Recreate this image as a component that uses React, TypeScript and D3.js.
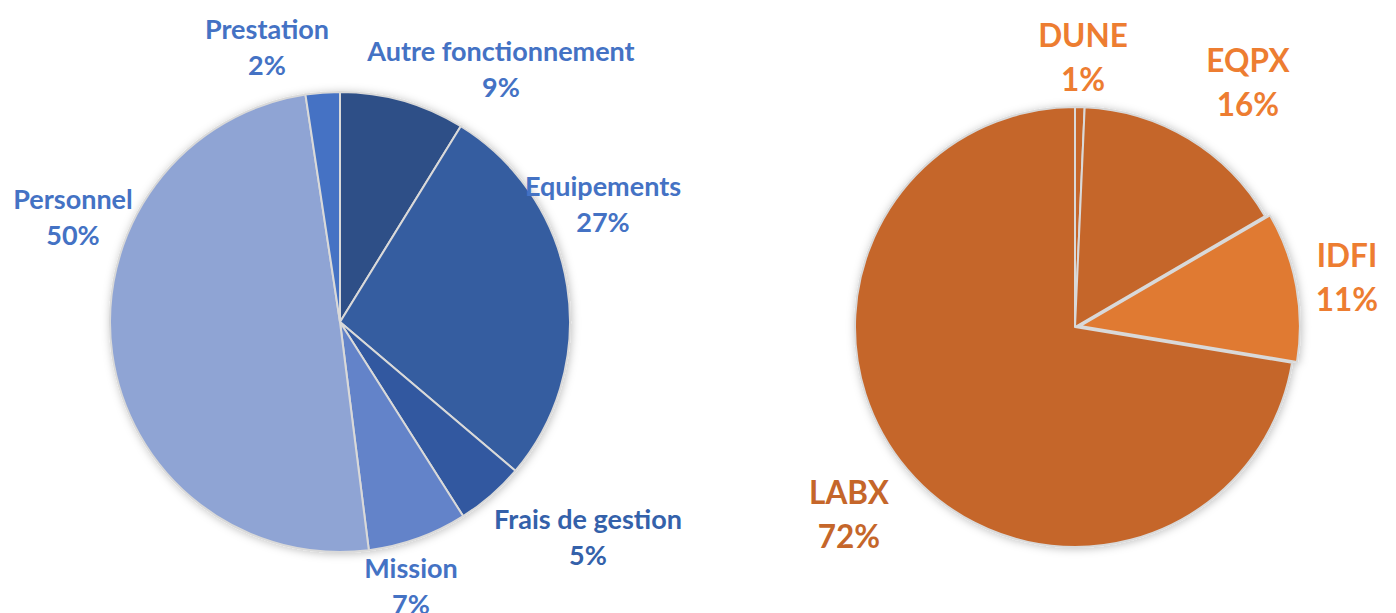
import React, { useEffect, useRef } from "react";
import * as d3 from "d3";

// left pie: budget by type of expense
const leftLabels = ["Autre fonctionnement", "Equipements", "Frais de gestion", "Mission", "Personnel", "Prestation"];
const leftValues = [8.8, 27.4, 4.8, 7.0, 49.6, 2.4];
const leftColors = ["#2E4F87", "#365DA0", "#3059A0", "#6383C9", "#8FA4D4", "#4472C4"];
const leftTextColors = ["#4472C4", "#4472C4", "#3461AA", "#4472C4", "#4472C4", "#4472C4"];

// right pie: budget by funding source
const rightLabels = ["DUNE", "EQPX", "IDFI", "LABX"];
const rightValues = [0.7, 15.9, 11.0, 72.4];
const rightColors = ["#C5662A", "#C5662A", "#E07A32", "#C5662A"];
const rightTextColors = ["#ED7D31", "#ED7D31", "#ED7D31", "#C5662A"];
const rightExplode = [0, 0, 5, 0];

// label centres relative to the pie centre (Excel "best fit")
const leftLabelPos = [[161, -252], [263, -117], [248, 216], [71, 265], [-267, -104], [-73, -274]];
const rightLabelPos = [[8, -269], [173, -244], [272, -49], [-226, 188]];

const App = () => {
  const svgRef = useRef<SVGSVGElement>(null);

  useEffect(() => {
    const width = 1396;
    const height = 613;
    const svg = d3.select(svgRef.current)
      .attr("width", width)
      .attr("height", height)
      .style("position", "absolute")
      .style("left", 0)
      .style("top", 0)
      .style("font-family", "Lato, 'Open Sans', sans-serif")
      .style("font-weight", "bold");
    svg.selectAll("*").remove();

    const defs = svg.append("defs");
    defs.append("filter")
      .attr("id", "shadow")
      .attr("x", "-20%").attr("y", "-20%").attr("width", "140%").attr("height", "140%")
      .append("feDropShadow")
      .attr("dx", 1).attr("dy", 1)
      .attr("stdDeviation", 4)
      .attr("flood-color", "#000")
      .attr("flood-opacity", 0.25);

    const pie = d3.pie<number>().sort(null).value((d) => d);

    const drawPie = (opts: {
      cx: number; cy: number; r: number; values: number[]; labels: string[];
      colors: string[]; textColors: string[]; labelPos: number[][];
      explode: number[]; fontSize: number; lineGap: number;
    }) => {
      const g = svg.append("g").attr("transform", `translate(${opts.cx},${opts.cy})`);
      const arc = d3.arc<d3.PieArcDatum<number>>().innerRadius(0).outerRadius(opts.r);
      const arcs = pie(opts.values);

      g.append("g")
        .attr("filter", "url(#shadow)")
        .selectAll("path")
        .data(arcs)
        .join("path")
        .attr("transform", (d, i) => {
          const a = (d.startAngle + d.endAngle) / 2;
          const e = opts.explode[i];
          return `translate(${Math.sin(a) * e},${-Math.cos(a) * e})`;
        })
        .attr("d", arc)
        .attr("fill", (d, i) => opts.colors[i])
        .attr("stroke", "#D9D9D9")
        .attr("stroke-width", 2)
        .attr("stroke-linejoin", "round");

      const fmt = d3.format(".0f");
      const lab = g.append("g")
        .selectAll("text")
        .data(arcs)
        .join("text")
        .attr("text-anchor", "middle")
        .attr("font-size", opts.fontSize)
        .attr("fill", (d, i) => opts.textColors[i])
        .attr("transform", (d, i) => `translate(${opts.labelPos[i][0]},${opts.labelPos[i][1]})`);
      lab.append("tspan")
        .attr("x", 0)
        .attr("y", -opts.lineGap / 2)
        .attr("dy", "0.35em")
        .text((d, i) => opts.labels[i]);
      lab.append("tspan")
        .attr("x", 0)
        .attr("y", opts.lineGap / 2)
        .attr("dy", "0.35em")
        .text((d) => fmt(d.data) + "%");
    };

    drawPie({
      cx: 340, cy: 322, r: 230,
      values: leftValues, labels: leftLabels, colors: leftColors,
      textColors: leftTextColors, labelPos: leftLabelPos,
      explode: leftValues.map(() => 0), fontSize: 27, lineGap: 36,
    });

    drawPie({
      cx: 1075, cy: 327, r: 220,
      values: rightValues, labels: rightLabels, colors: rightColors,
      textColors: rightTextColors, labelPos: rightLabelPos,
      explode: rightExplode, fontSize: 31.5, lineGap: 44,
    });
  }, []);

  return <svg ref={svgRef}></svg>;
};

export default App;
